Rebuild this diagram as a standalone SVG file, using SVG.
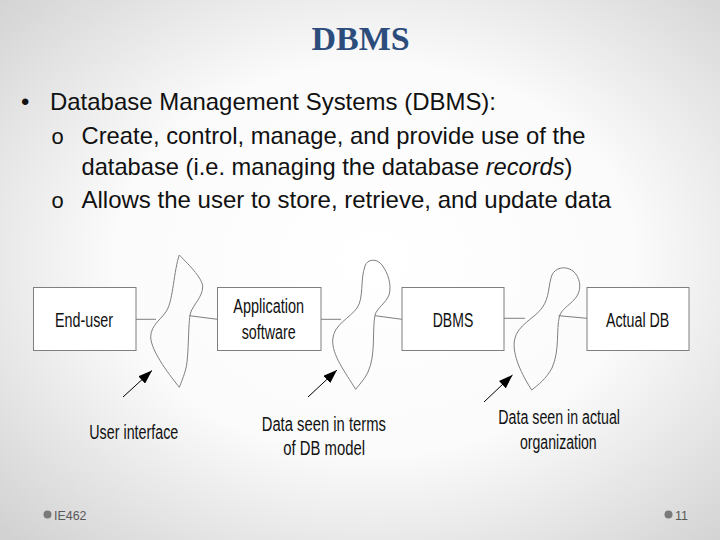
<svg xmlns="http://www.w3.org/2000/svg" width="720" height="540" viewBox="0 0 720 540">
<defs>
<radialGradient id="bg" cx="52%" cy="48%" r="72%">
<stop offset="0" stop-color="#ffffff"/>
<stop offset="0.5" stop-color="#fbfbfb"/>
<stop offset="1" stop-color="#d2d2d2"/>
</radialGradient>
<marker id="ah" viewBox="0 0 14 10" refX="14" refY="5" markerWidth="14" markerHeight="10" markerUnits="userSpaceOnUse" orient="auto">
<path d="M0,0 L14,5 L0,10 Z" fill="#000"/>
</marker>
<style>
.box{fill:#fff;stroke:#7f7f7f;stroke-width:1}
.wave{fill:none;stroke:#7f7f7f;stroke-width:1}
.conn{stroke:#7f7f7f;stroke-width:1;fill:none}
.arr{stroke:#000;stroke-width:1;fill:none}
.lbl{font-family:"Liberation Sans Narrow","Liberation Sans",Arial,sans-serif;font-size:20px;fill:#111}
.body{font-family:"Liberation Sans",Arial,sans-serif;font-size:24px;fill:#111}
.sub{font-family:"Liberation Mono","Courier New",monospace;font-size:22px;fill:#111}
.foot{font-family:"Liberation Sans Narrow","Liberation Sans",sans-serif;font-size:13px;fill:#595959}
</style>
</defs>
<rect width="720" height="540" fill="url(#bg)"/>
<text x="311.5" y="49.5" font-family="Liberation Serif,'Times New Roman',serif" font-weight="bold" font-size="34" fill="#2c4d7c">DBMS</text>
<g id="bullets">
<text class="body" x="21" y="110">•</text>
<text class="body" x="50" y="110" textLength="446" lengthAdjust="spacingAndGlyphs">Database Management Systems (DBMS):</text>
<text class="sub" x="51" y="143.5">o</text>
<text class="body" x="81.5" y="143.5" textLength="504" lengthAdjust="spacingAndGlyphs">Create, control, manage, and provide use of the</text>
<text class="body" x="81.5" y="174.5" textLength="491" lengthAdjust="spacingAndGlyphs">database (i.e. managing the database <tspan font-style="italic">records</tspan>)</text>
<text class="sub" x="51" y="207.5">o</text>
<text class="body" x="81.5" y="207.5">Allows the user to store, retrieve, and update data</text>
</g>
<g id="connectors">
<line class="conn" x1="136" y1="319.3" x2="156" y2="319.3"/>
<line class="conn" x1="189.5" y1="315.7" x2="217.5" y2="319.3"/>
<line class="conn" x1="321" y1="319.3" x2="341" y2="319.3"/>
<line class="conn" x1="375" y1="315.7" x2="402" y2="319.3"/>
<line class="conn" x1="504" y1="318.3" x2="525" y2="318.3"/>
<line class="conn" x1="558.5" y1="315.7" x2="587" y2="318.3"/>
<line class="arr" x1="123" y1="397" x2="152" y2="370.5" marker-end="url(#ah)"/>
<line class="arr" x1="308" y1="397" x2="337" y2="370" marker-end="url(#ah)"/>
<line class="arr" x1="484" y1="402" x2="512.5" y2="375" marker-end="url(#ah)"/>
</g>
<g id="end-user">
<rect class="box" x="33.5" y="287.5" width="102.5" height="63"/>
<text class="lbl" x="55" y="326.5" textLength="58" lengthAdjust="spacingAndGlyphs">End-user</text>
</g>
<g id="application-software">
<rect class="box" x="217.5" y="287.5" width="103.5" height="63"/>
<text class="lbl" x="233.3" y="312.5" textLength="70.7" lengthAdjust="spacingAndGlyphs">Application</text>
<text class="lbl" x="241.7" y="338.5" textLength="54" lengthAdjust="spacingAndGlyphs">software</text>
</g>
<g id="dbms">
<rect class="box" x="402" y="287.5" width="102" height="63"/>
<text class="lbl" x="432.7" y="326.5" textLength="40.6" lengthAdjust="spacingAndGlyphs">DBMS</text>
</g>
<g id="actual-db">
<rect class="box" x="587" y="287.5" width="102" height="63"/>
<text class="lbl" x="606" y="326.5" textLength="63.3" lengthAdjust="spacingAndGlyphs">Actual DB</text>
</g>
<g id="user-interface">
<path class="wave" d="M179.3,255 C186,262 203,278 202.7,287 C202.5,297 193,305 190.5,313 C188,322 189,355 186,368 C184,376 181,383 179.3,387.3 C172,378 151,352 150.7,337 C150.5,325 163,318 167,310 C173,300 174,270 179.3,255 Z"/>
<text class="lbl" x="89.3" y="438.5" textLength="89" lengthAdjust="spacingAndGlyphs">User interface</text>
</g>
<g id="db-model-view">
<path class="wave" d="M355.7,389.3 C345,372 332,355 332.7,340 C333,325 350,318 357,308 C364,298 360,280 365,266 C367,259 377,258 382,265 C388,273 392,285 389,295 C386,303 377,308 375,315 C372,330 376,355 368,372 C364,380 359,385 355.7,389.3 Z"/>
<text class="lbl" x="261.7" y="431" textLength="124.3" lengthAdjust="spacingAndGlyphs">Data seen in terms</text>
<text class="lbl" x="283.3" y="455" textLength="81.7" lengthAdjust="spacingAndGlyphs">of DB model</text>
</g>
<g id="actual-organization">
<path class="wave" d="M531.7,390 C522,375 512,355 514.5,340 C517,325 535,318 542,308 C550,297 548,285 552,275 C555,268 565,265 573,271 C580,277 582,288 577,296 C572,304 562,308 559.5,316 C556,330 560,350 552,368 C546,379 538,385 531.7,390 Z"/>
<text class="lbl" x="498.3" y="423.5" textLength="121.7" lengthAdjust="spacingAndGlyphs">Data seen in actual</text>
<text class="lbl" x="520" y="448.5" textLength="76.7" lengthAdjust="spacingAndGlyphs">organization</text>
</g>
<g id="footer">
<circle cx="47.5" cy="514.5" r="4" fill="#7a7a7a"/>
<text class="foot" x="54" y="519.5" textLength="32.5" lengthAdjust="spacingAndGlyphs">IE462</text>
<circle cx="668.5" cy="514.5" r="4" fill="#7a7a7a"/>
<text class="foot" x="675" y="519.5" textLength="13" lengthAdjust="spacingAndGlyphs">11</text>
</g>
</svg>
